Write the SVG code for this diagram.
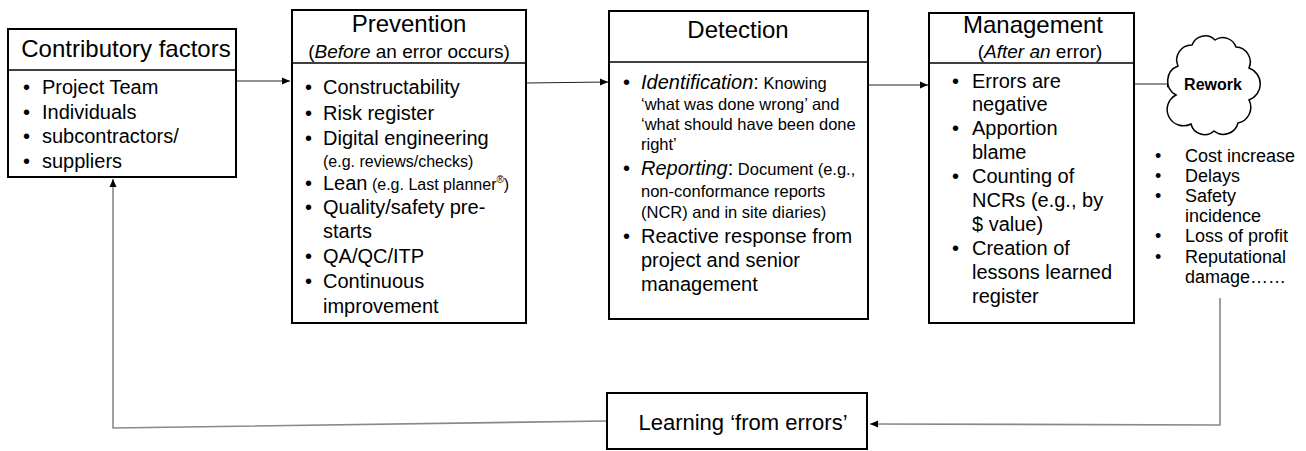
<svg xmlns="http://www.w3.org/2000/svg" width="1306" height="451" viewBox="0 0 1306 451">
<style>
text{font-family:"Liberation Sans",Arial,sans-serif;fill:#000}
.box{fill:#fff;stroke:#000;stroke-width:2}
.div{stroke:#000;stroke-width:1.3}
.t{font-size:24px}
.st{font-size:19px}
.b{font-size:20px}
.s{font-size:16.5px}
.r{font-size:18px}
.conn{fill:none;stroke:#222;stroke-width:1}
.fb{fill:none;stroke:#888;stroke-width:1.6}
</style>
<defs>
<marker id="ah" markerWidth="8" markerHeight="8" refX="8" refY="4" orient="auto" markerUnits="userSpaceOnUse">
<path d="M0,0.5 L8,4 L0,7.5 Z" fill="#000"/>
</marker>
</defs>

<g id="connectors">
<line class="conn" x1="236" y1="81" x2="290" y2="81" marker-end="url(#ah)"/>
<line class="conn" x1="527" y1="83" x2="608" y2="82" marker-end="url(#ah)"/>
<line class="conn" x1="869" y1="85" x2="928" y2="85" marker-end="url(#ah)"/>
<line class="conn" x1="1135" y1="84" x2="1175" y2="84" marker-end="url(#ah)"/>
<polyline class="fb" points="1220,298 1220,425 870,424" marker-end="url(#ah)"/>
<polyline class="fb" points="607,421 113,428 113,179" marker-end="url(#ah)"/>
</g>

<g id="contributory">
<rect class="box" x="8" y="29" width="228" height="148"/>
<line class="div" x1="8" y1="70" x2="236" y2="70"/>
<text class="t" x="126" y="57" text-anchor="middle">Contributory factors</text>
<text class="b" x="23" y="94">•</text><text class="b" x="42" y="94">Project Team</text>
<text class="b" x="23" y="119">•</text><text class="b" x="42" y="119">Individuals</text>
<text class="b" x="23" y="143">•</text><text class="b" x="42" y="143">subcontractors/</text>
<text class="b" x="23" y="168">•</text><text class="b" x="42" y="168">suppliers</text>
</g>

<g id="prevention">
<rect class="box" x="292" y="10" width="234" height="313"/>
<line class="div" x1="292" y1="63" x2="526" y2="63"/>
<text class="t" x="409" y="32" text-anchor="middle">Prevention</text>
<text class="st" x="409" y="58" text-anchor="middle">(<tspan font-style="italic">Before</tspan> an error occurs)</text>
<text class="b" x="305" y="94">•</text><text class="b" x="323" y="94">Constructability</text>
<text class="b" x="305" y="120">•</text><text class="b" x="323" y="120">Risk register</text>
<text class="b" x="305" y="145">•</text><text class="b" x="323" y="145">Digital engineering</text>
<text x="323" y="167" font-size="16">(e.g. reviews/checks)</text>
<text class="b" x="305" y="190">•</text><text class="b" x="323" y="190">Lean<tspan font-size="16"> (e.g. Last planner</tspan><tspan font-size="10" dy="-7">®</tspan><tspan font-size="16" dy="7">)</tspan></text>
<text class="b" x="305" y="214">•</text><text class="b" x="323" y="214">Quality/safety pre-</text>
<text class="b" x="323" y="238">starts</text>
<text class="b" x="305" y="263">•</text><text class="b" x="323" y="263">QA/QC/ITP</text>
<text class="b" x="305" y="288">•</text><text class="b" x="323" y="288">Continuous</text>
<text class="b" x="323" y="313">improvement</text>
</g>

<g id="detection">
<rect class="box" x="609" y="11" width="259" height="308"/>
<line class="div" x1="609" y1="62" x2="868" y2="62"/>
<text class="t" x="738" y="38" text-anchor="middle">Detection</text>
<text class="b" x="623" y="89">•</text><text class="b" x="641" y="89"><tspan font-style="italic">Identification</tspan>:<tspan class="s"> Knowing</tspan></text>
<text class="s" x="641" y="110">‘what was done wrong’ and</text>
<text class="s" x="641" y="130">‘what should have been done</text>
<text class="s" x="641" y="150">right’</text>
<text class="b" x="623" y="175">•</text><text class="b" x="641" y="175"><tspan font-style="italic">Reporting</tspan>:<tspan class="s"> Document (e.g.,</tspan></text>
<text class="s" x="641" y="197">non-conformance reports</text>
<text class="s" x="641" y="218">(NCR) and in site diaries)</text>
<text class="b" x="623" y="243">•</text><text class="b" x="641" y="243">Reactive response from</text>
<text class="b" x="641" y="267">project and senior</text>
<text class="b" x="641" y="291">management</text>
</g>

<g id="management">
<rect class="box" x="929" y="13" width="205" height="310"/>
<line class="div" x1="929" y1="63" x2="1134" y2="63"/>
<text class="t" x="1033" y="33" text-anchor="middle">Management</text>
<text class="st" x="1040" y="58" text-anchor="middle">(<tspan font-style="italic">After an</tspan> error)</text>
<text class="b" x="952" y="88">•</text><text class="b" x="972" y="88">Errors are</text>
<text class="b" x="972" y="111">negative</text>
<text class="b" x="952" y="135">•</text><text class="b" x="972" y="135">Apportion</text>
<text class="b" x="972" y="159">blame</text>
<text class="b" x="952" y="183">•</text><text class="b" x="972" y="183">Counting of</text>
<text class="b" x="972" y="207">NCRs (e.g., by</text>
<text class="b" x="972" y="231">$ value)</text>
<text class="b" x="952" y="255">•</text><text class="b" x="972" y="255">Creation of</text>
<text class="b" x="972" y="279">lessons learned</text>
<text class="b" x="972" y="303">register</text>
</g>

<g id="rework">
<path d="M1176,95 A16,16 0 0 1 1178,66 A15,15 0 0 1 1192,45 A14,14 0 0 1 1215,40 A14,14 0 0 1 1236,47 A15,15 0 0 1 1249,68 A17,17 0 0 1 1249,100 A16,16 0 0 1 1238,123 A15,15 0 0 1 1214,131 A14,14 0 0 1 1191,124 A14,14 0 0 1 1176,95 Z" fill="#fff" stroke="#000" stroke-width="1.5"/>
<text x="1213" y="90" text-anchor="middle" font-size="16" font-weight="bold">Rework</text>
</g>

<g id="consequences">
<text class="r" x="1155" y="162">•</text><text class="r" x="1185" y="162">Cost increase</text>
<text class="r" x="1155" y="182">•</text><text class="r" x="1185" y="182">Delays</text>
<text class="r" x="1155" y="202">•</text><text class="r" x="1185" y="202">Safety</text>
<text class="r" x="1185" y="222">incidence</text>
<text class="r" x="1155" y="242">•</text><text class="r" x="1185" y="242">Loss of profit</text>
<text class="r" x="1155" y="263">•</text><text class="r" x="1185" y="263">Reputational</text>
<text class="r" x="1185" y="283">damage……</text>
</g>

<g id="learning">
<rect class="box" x="607" y="393" width="260" height="56"/>
<text x="743" y="430" text-anchor="middle" font-size="22">Learning ‘from errors’</text>
</g>
</svg>
